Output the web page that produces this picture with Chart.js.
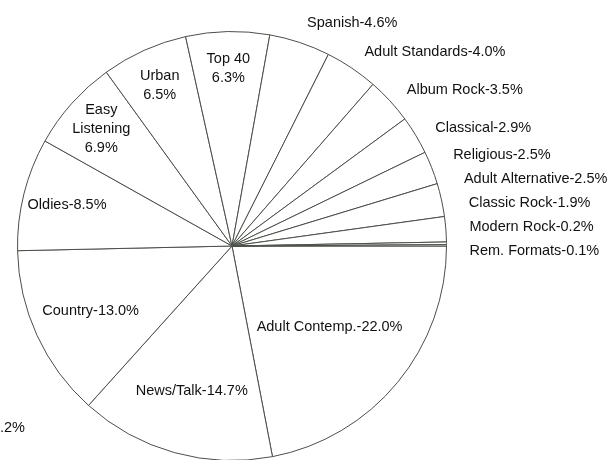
<!DOCTYPE html>
<html>
<head>
<meta charset="utf-8">
<script src="https://cdn.jsdelivr.net/npm/chart.js@4/dist/chart.umd.min.js"></script>
<style>
  html, body { margin: 0; padding: 0; background: #fff; overflow: hidden; }
  #wrap { position: absolute; left: 0; top: 0; width: 610px; height: 460px; overflow: hidden; }
  canvas { display: block; }
</style>
</head>
<body>
<div id="wrap"><canvas id="formatChart" width="610" height="480"></canvas></div>
<script>
  // Radio format shares, clockwise from 3 o'clock
  const categories = ['Adult Contemp.', 'News/Talk', 'Country', 'Oldies', 'Easy\nListening', 'Urban', 'Top 40',
    'Spanish', 'Adult Standards', 'Album Rock', 'Classical', 'Religious', 'Adult Alternative',
    'Classic Rock', 'Modern Rock', 'Rem. Formats'];
  const shares = [22.0, 14.7, 13.0, 8.5, 6.9, 6.5, 6.3, 4.6, 4.0, 3.5, 2.9, 2.5, 2.5, 1.9, 0.2, 0.1];
  // stray label fragment at the lower left edge of the page
  const strayText = '.2%';

  const FONT = '14.5px "Liberation Sans", Arial, Helvetica, sans-serif';

  // Draw the slice labels (inside for big slices, stacked outside for small ones)
  const sliceLabels = {
    id: 'sliceLabels',
    afterDatasetsDraw(chart) {
      const ctx = chart.ctx;
      const arcs = chart.getDatasetMeta(0).data;
      ctx.save();
      ctx.font = FONT;
      ctx.fillStyle = '#111';
      ctx.textBaseline = 'middle';

      let prevY = Infinity;
      for (let i = arcs.length - 1; i >= 0; i--) {
        const p = arcs[i].getProps(['x', 'y', 'startAngle', 'endAngle', 'outerRadius'], true);
        const mid = (p.startAngle + p.endAngle) / 2;
        const v = shares[i];
        const name = categories[i];
        const pct = v.toFixed(1) + '%';

        if (v < 6) {
          const r = p.outerRadius + 23;
          const x = p.x + Math.cos(mid) * r;
          let y = p.y + Math.sin(mid) * r + 6 * Math.cos(mid);
          y = Math.min(y, prevY - 24);
          prevY = y;
          ctx.textAlign = 'left';
          ctx.fillText(name + '-' + pct, x, y);
        } else {
          const r = p.outerRadius * (0.92 - 0.015 * v);
          const x = p.x + Math.cos(mid) * r;
          const y = p.y + Math.sin(mid) * r;
          ctx.textAlign = 'center';
          if (v < 8) {
            const lines = name.split('\n').concat([pct]);
            const lh = 19;
            lines.forEach((ln, k) => {
              ctx.fillText(ln, x, y + (k - (lines.length - 1) / 2) * lh);
            });
          } else {
            ctx.fillText(name.replace('\n', ' ') + '-' + pct, x, y);
          }
        }
      }

      ctx.textAlign = 'left';
      ctx.fillText(strayText, 0, 428);
      ctx.restore();
    }
  };

  const ctx1 = document.getElementById('formatChart').getContext('2d');
  new Chart(ctx1, {
    type: 'pie',
    data: {
      labels: categories,
      datasets: [{
        data: shares,
        backgroundColor: '#fff',
        borderColor: '#4a4f48',
        borderWidth: 1
      }]
    },
    options: {
      responsive: false,
      animation: false,
      rotation: 90,
      layout: { padding: { left: 17, right: 163, top: 31, bottom: 19 } },
      plugins: {
        legend: { display: false },
        tooltip: { enabled: false }
      }
    },
    plugins: [sliceLabels]
  });
</script>
</body>
</html>
